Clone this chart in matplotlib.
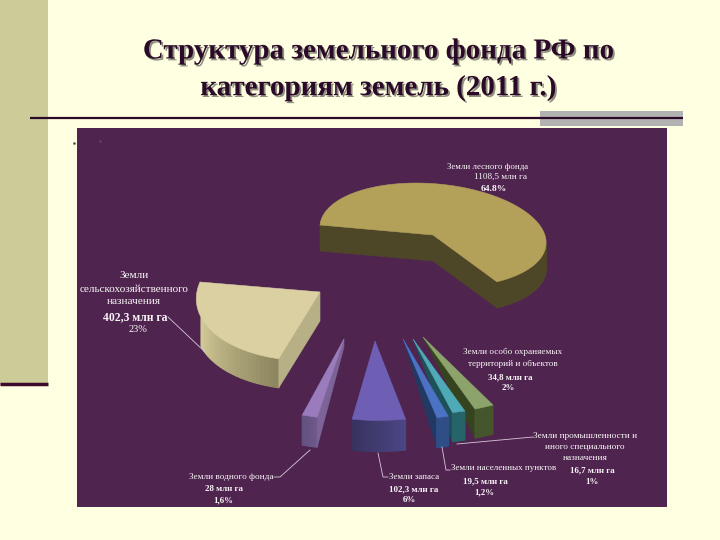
import numpy as np
import matplotlib
matplotlib.use('Agg')
import matplotlib.pyplot as plt
import matplotlib.patheffects as pe
from matplotlib.patches import Polygon, Rectangle

# data, clockwise from the left edge of the biggest slice
categories = ['forest', 'protected', 'industry', 'settlements', 'reserve', 'water', 'agri']
values = [1108.5, 34.8, 16.7, 19.5, 102.3, 28, 402.3]
shares = [64.8, 2.0, 1.0, 1.2, 6.0, 1.6, 23.4]

title_lines = ['Структура земельного фонда РФ по', 'категориям земель (2011 г.)']

# layout: apex x, y, then a, c, d, b of the local projection, slab depth
geom = {
    'forest': (433, 235, 113, 5, 10, 51, 26),
    'protected': (423, 337, 151, 26, 12, 76, 29),
    'industry': (413, 339, 200, 54, 12, 76, 29),
    'settlements': (403, 339, 160, 28, 12, 80, 30),
    'reserve': (375, 341, 141, 24, 15, 78, 31),
    'water': (344, 339, 147, 28, 18, 78, 30),
    'agri': (320, 292, 120, 30, 10, 68, 29),
}
# top face, side wall, rim start, rim end
colors = {
    'forest': ('#B3A15A', '#4E4727', '#4E4727', '#4E4727'),
    'protected': ('#8CA36B', '#35431F', '#46562C', '#46562C'),
    'industry': ('#4FA9B6', '#1D5059', '#256469', '#256469'),
    'settlements': ('#4C72C4', '#213A63', '#2E4E85', '#2E4E85'),
    'reserve': ('#6F5FB4', '#3F3A6E', '#37335F', '#4B4684'),
    'water': ('#9A7BBC', '#7C6498', '#62507F', '#6E5A8C'),
    'agri': ('#DAD0A2', '#B7AF85', '#D3CB98', '#8E8660'),
}

fig = plt.figure(figsize=(7.2, 5.4), dpi=100, facecolor='#FFFFE1')
ax = fig.add_axes([0, 0, 1, 1])
ax.set_xlim(0, 720)
ax.set_ylim(540, 0)
ax.axis('off')
plt.rcParams['font.family'] = ['Liberation Serif', 'DejaVu Serif']

# slide decoration
ax.add_patch(Rectangle((0, 0), 48, 385, fc='#CCCC99', ec='none'))
ax.plot([0, 48], [383.5, 383.5], color='#3C0A2C', lw=2.5, solid_capstyle='butt')
ax.add_patch(Rectangle((540, 111), 143, 15, fc='#B2B2B2', ec='none'))
ax.plot([30, 683], [118, 118], color='#2A0A28', lw=1.6, solid_capstyle='butt')
ax.add_patch(Rectangle((77, 128), 590, 379, fc='#4F2550', ec='none'))
ax.plot([74, 100], [143, 141], ls='none', marker='s', ms=0.8, color='#5A4A50', clip_on=False)

for line, y in zip(title_lines, [51, 88]):
    ax.text(378, y, line, ha='center', va='center', fontsize=20.9, fontweight='bold',
            color='#2A0A28',
            path_effects=[pe.withSimplePatchShadow(offset=(1.3, -1.3), shadow_rgbFace='#8F8F80', alpha=1)])


def project(key, t):
    x0, y0, a, c, d, b, _ = geom[key]
    t = np.radians(t)
    return x0 + a * np.cos(t) + c * np.sin(t), y0 + d * np.cos(t) - b * np.sin(t)


def mix(c1, c2, f):
    c1 = np.array(matplotlib.colors.to_rgb(c1))
    c2 = np.array(matplotlib.colors.to_rgb(c2))
    return tuple(c1 + (c2 - c1) * f)


def rim(key, t1, t2, n=24):
    # outer wall of a slab, t1 to t2, shaded step by step
    depth = geom[key][6]
    _, _, c1, c2 = colors[key]
    ts = np.linspace(t1, t2, n + 1)
    for i in range(n):
        x, y = project(key, ts[i:i + 2])
        pts = [(x[0], y[0]), (x[1], y[1]), (x[1], y[1] + depth), (x[0], y[0] + depth)]
        col = mix(c1, c2, i / (n - 1))
        ax.add_patch(Polygon(pts, fc=col, ec=col, lw=0.9))


# angles come from the values
total = sum(values)
angle = 180.0
spans = {}
for key, v in zip(categories, values):
    spans[key] = (angle, angle - v / total * 360)
    angle = spans[key][1]

for key in categories:
    t1, t2 = spans[key]
    x0, y0 = geom[key][:2]
    depth = geom[key][6]
    top, wall = colors[key][:2]
    ts = np.linspace(t1, t2, 120)
    xs, ys = project(key, ts)
    xa, ya = project(key, t1)
    xb, yb = project(key, t2)

    if key == 'forest':
        ax.add_patch(Polygon([(xa, ya), (x0, y0), (x0, y0 + depth), (xa, ya + depth)], fc=wall, ec=wall, lw=0.4))
        ax.add_patch(Polygon([(x0, y0), (xb, yb), (xb, yb + depth), (x0, y0 + depth)], fc=wall, ec=wall, lw=0.4))
        rim(key, t2, 0)
    elif key == 'agri':
        rim(key, -150, t1)
        ax.add_patch(Polygon([(x0, y0), (xa, ya), (xa, ya + depth), (x0, y0 + depth)], fc=wall, ec=wall, lw=0.4))
    elif key == 'water':
        rim(key, t2, t1)
        ax.add_patch(Polygon([(x0, y0), (xa, ya), (xa, ya + depth), (x0, y0 + 8)], fc=wall, ec=wall, lw=0.4))
    elif key == 'reserve':
        rim(key, t2, t1)
    else:
        ax.add_patch(Polygon([(x0, y0), (xb, yb), (xb, yb + depth)], fc=wall, ec=wall, lw=0.4))
        rim(key, t2, t1)

    ax.add_patch(Polygon(list(zip(np.r_[x0, xs], np.r_[y0, ys])), fc=top, ec=top, lw=0.4))

# leader lines
leaders = [
    ([168, 205], [317, 352]),
    ([274, 280, 310], [477, 477, 450]),
    ([378, 383, 388], [453, 477, 477]),
    ([442, 446, 450], [447, 470, 470]),
    ([457, 533], [444, 437]),
]
for lx, ly in leaders:
    ax.plot(lx, ly, color='#D8C8D8', lw=0.6)

# labels: text, x, y, size, bold
labels = [
    ('Земли лесного фонда', 488, 167, 6.3, False),
    ('1108,5 млн га', 500, 177, 6.6, False),
    ('64.8%', 494, 189, 6.8, True),
    ('Земли', 134, 276, 8, False),
    ('сельскохозяйственного', 134, 289, 8, False),
    ('назначения', 134, 302, 8.2, False),
    ('402,3 млн га', 135, 317, 8.4, True),
    ('23%', 138, 330, 7.5, False),
    ('Земли водного фонда', 231, 477, 6.6, False),
    ('28 млн га', 224, 489, 6.4, True),
    ('1,6%', 223, 500, 6.4, True),
    ('Земли запаса', 414, 477, 6.5, False),
    ('102,3 млн га', 414, 489, 6.4, True),
    ('6%', 409, 500, 6.4, True),
    ('Земли населенных пунктов', 504, 468, 6.5, False),
    ('19,5 млн га', 485, 481, 6.4, True),
    ('1,2%', 484, 492, 6.4, True),
    ('Земли промышленности и', 585, 436, 6.7, False),
    ('иного специального', 585, 447, 6.7, False),
    ('назначения', 585, 458, 6.7, False),
    ('16,7 млн га', 592, 470, 6.4, True),
    ('1%', 592, 482, 6.4, True),
    ('Земли особо охраняемых', 513, 352, 6.6, False),
    ('территорий и объектов', 513, 364, 6.6, False),
    ('34,8 млн га', 510, 377, 6.4, True),
    ('2%', 508, 388, 6.4, True),
]
for txt, x, y, size, bold in labels:
    ax.text(x, y, txt, ha='center', va='center', fontsize=size, color='#FAF6F8',
            fontweight='bold' if bold else 'normal')

fig.savefig('out.png', dpi=100, facecolor=fig.get_facecolor())
